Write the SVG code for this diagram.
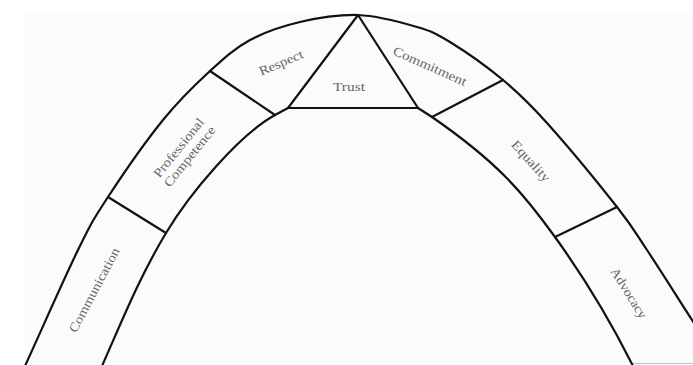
<svg xmlns="http://www.w3.org/2000/svg" width="693" height="365" viewBox="0 0 693 365">
  <style>
    .ln { fill: none; stroke: #111; stroke-width: 2.2; stroke-linejoin: round; stroke-linecap: round; }
    .lbl { font-family: "Liberation Serif", "DejaVu Serif", serif; font-size: 13px; fill: #666666; text-anchor: middle; dominant-baseline: central; }
  </style>
  <rect x="0" y="0" width="693" height="365" fill="#ffffff"/>
  <rect x="25" y="14" width="668" height="349" fill="#fbfbfb"/>
  <line x1="633" y1="363.5" x2="693" y2="363.5" stroke="#c4c4c4" stroke-width="1"/>

  <g id="arch">
    <path id="outer" class="ln" d="M25,366 C42.7,327.3 64.2,278.2 78,250 C91.8,221.8 93.8,218.7 108,197 C122.2,175.3 146,141 163,120 C180,99 195.5,84.3 210,71 C224.5,57.7 235,48.2 250,40 C265,31.8 282,26.2 300,22 C318,17.8 338.5,14.6 358,15 C377.5,15.8 401.7,22.5 417,27 C432.3,31.5 435.7,33.2 450,42 C464.3,50.8 486.8,66.5 503,80 C519.2,93.5 528,101.8 547,123 C566,144.2 600.3,185.8 617,207 C633.7,228.2 634.2,230.7 647,250 C659.8,269.3 678.3,298.7 694,323"/>
    <path id="inner-left" class="ln" d="M102,366 C122,321 139,278 166,233 C190,193 239,135 275,115 L288,108"/>
    <path id="inner-right" class="ln" d="M418,108 L432,117 C497,162 522.6,192 555,237 C586,280 611.5,323 633,366"/>
  </g>

  <g id="connectors">
    <line class="ln" x1="108" y1="197" x2="166" y2="233"/>
    <line class="ln" x1="210" y1="71" x2="275" y2="115"/>
    <line class="ln" x1="503" y1="80" x2="432" y2="117"/>
    <line class="ln" x1="617" y1="207" x2="555" y2="237"/>
  </g>

  <g id="trust">
    <polygon class="ln" points="358,15 288,108 418,108"/>
    <text class="lbl" x="349" y="86" textLength="32" lengthAdjust="spacingAndGlyphs">Trust</text>
  </g>
  <g id="respect" transform="translate(281,62.5) rotate(-23)">
    <text class="lbl" x="0" y="0" textLength="47" lengthAdjust="spacingAndGlyphs">Respect</text>
  </g>
  <g id="commitment" transform="translate(430,66) rotate(24)">
    <text class="lbl" x="0" y="0" textLength="79" lengthAdjust="spacingAndGlyphs">Commitment</text>
  </g>
  <g id="equality" transform="translate(531,161) rotate(48)">
    <text class="lbl" x="0" y="0" textLength="51" lengthAdjust="spacingAndGlyphs">Equality</text>
  </g>
  <g id="advocacy" transform="translate(629,293) rotate(58)">
    <text class="lbl" x="0" y="0" textLength="57" lengthAdjust="spacingAndGlyphs">Advocacy</text>
  </g>
  <g id="communication" transform="translate(94,290) rotate(-62)">
    <text class="lbl" x="0" y="0" textLength="94" lengthAdjust="spacingAndGlyphs">Communication</text>
  </g>
  <g id="professional-competence" transform="translate(184,152) rotate(-51)">
    <text class="lbl" x="0" y="-7" textLength="72" lengthAdjust="spacingAndGlyphs">Professional</text>
    <text class="lbl" x="0" y="7" textLength="74" lengthAdjust="spacingAndGlyphs">Competence</text>
  </g>
</svg>
